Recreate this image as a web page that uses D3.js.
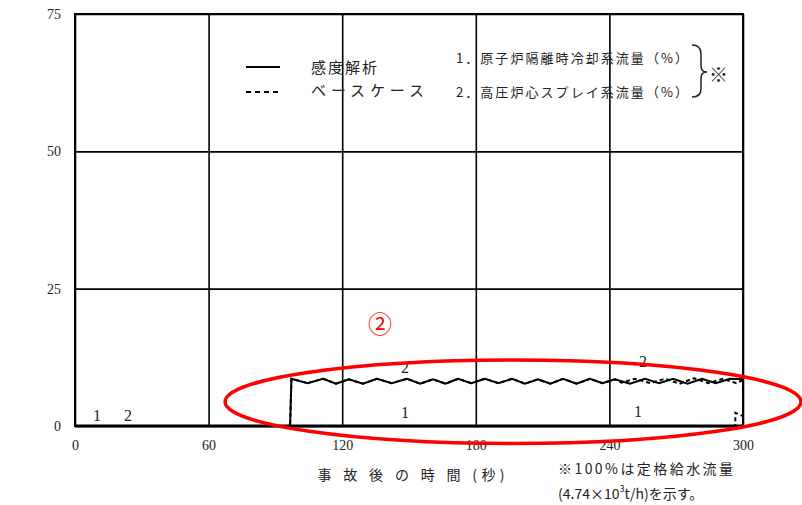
<!DOCTYPE html>
<html>
<head>
<meta charset="utf-8">
<script src="https://cdn.jsdelivr.net/npm/d3@7"></script>
<style>
  body { margin: 0; background: #fff; }
  svg { display: block; }
  .num { font-family: "Liberation Serif", "DejaVu Serif", serif; }
  .jp  { font-family: "Noto Sans CJK JP", "Noto Sans", sans-serif; }
</style>
</head>
<body>
<svg id="chart" width="802" height="505"></svg>
<script>
// axis ticks
const timeTicks = [0, 60, 120, 180, 240, 300];
const flowTicks = [0, 25, 50, 75];

// 2. HPCS flow (%) - sensitivity case
const hpcsTime = [0, 96.6, 97.2, 104.4, 111.4, 117.2, 123.0, 129.3, 135.6, 142.3, 149.1, 155.0,
  160.8, 166.4, 172.0, 178.0, 184.1, 190.2, 196.3, 202.1, 207.9, 213.5, 219.2, 225.2,
  231.3, 236.9, 242.5, 249.2, 256.0, 262.3, 268.6, 275.1, 281.6, 287.8, 294.1, 300];
const hpcsFlow = [0, 0, 8.6, 7.8, 8.6, 7.7, 8.5, 7.7, 8.6, 7.8, 8.6, 7.7,
  8.5, 7.7, 8.6, 7.8, 8.6, 7.8, 8.6, 7.7, 8.5, 7.7, 8.6, 7.7,
  8.6, 7.8, 8.5, 7.7, 8.6, 7.8, 8.6, 7.7, 8.6, 7.8, 8.6, 8.5];

// 2. HPCS flow (%) - base case
const hpcsBaseTime = [0, 96.6, 97.2, 104.4, 111.4, 117.2, 123.0, 129.3, 135.6, 142.3, 149.1, 155.0,
  160.8, 166.4, 172.0, 178.0, 184.1, 190.2, 196.3, 202.1, 207.9, 213.5, 219.2, 225.2,
  231.3, 236.9, 242.5, 245.5, 251.5, 258.3, 265.0, 271.5, 278.0, 284.5, 291.0, 297.0, 300];
const hpcsBaseFlow = [0, 0, 8.6, 7.8, 8.6, 7.7, 8.5, 7.7, 8.6, 7.8, 8.6, 7.7,
  8.5, 7.7, 8.6, 7.8, 8.6, 7.8, 8.6, 7.7, 8.5, 7.7, 8.6, 7.7,
  8.6, 7.8, 8.5, 7.9, 8.6, 7.8, 8.6, 7.7, 8.7, 7.8, 8.6, 7.8, 8.4];

// 1. RCIC flow (%)
const rcicTime = [0, 300];
const rcicFlow = [0, 0];
const rcicBaseTime = [0, 296.5, 296.6, 300];
const rcicBaseFlow = [0, 0, 2.4, 1.8];

// curve number labels
const curveLabelText = ['1', '2', '2', '1', '2', '1'];
const curveLabelTime = [9.9, 23.8, 148.2, 148.2, 255.1, 252.8];
const curveLabelFlow = [2.0, 2.0, 10.6, 2.4, 11.7, 2.6];

const svg = d3.select('#chart');
const m = { left: 75, top: 14, right: 59, bottom: 79 };
const W = 802 - m.left - m.right;   // 668
const H = 505 - m.top - m.bottom;   // 412

const x = d3.scaleLinear().domain([0, 300]).range([0, W]);
const y = d3.scaleLinear().domain([0, 75]).range([H, 0]);

const g = svg.append('g').attr('transform', `translate(${m.left},${m.top})`);

// grid via axes
const xAxis = g.append('g')
  .attr('transform', `translate(0,${H})`)
  .call(d3.axisBottom(x).tickValues(timeTicks).tickSize(-H).tickPadding(14));
xAxis.select('.domain').remove();
xAxis.selectAll('line').attr('stroke', '#000').attr('stroke-width', 1.6);
xAxis.selectAll('text').attr('class', 'num').attr('font-size', 14).attr('fill', '#222');

const yAxis = g.append('g')
  .call(d3.axisLeft(y).tickValues(flowTicks).tickSize(-W).tickPadding(14));
yAxis.select('.domain').remove();
yAxis.selectAll('line').attr('stroke', '#000').attr('stroke-width', 1.6);
yAxis.selectAll('text').attr('class', 'num').attr('font-size', 14).attr('fill', '#222');

// frame
g.append('rect').attr('width', W).attr('height', H)
  .attr('fill', 'none').attr('stroke', '#000').attr('stroke-width', 2);
g.append('line').attr('x1', 0).attr('x2', W).attr('y1', H).attr('y2', H)
  .attr('stroke', '#000').attr('stroke-width', 3);

// series
const line = d3.line().x(d => x(d[0])).y(d => y(d[1]));
const zip = (a, b) => a.map((t, i) => [t, b[i]]);

const series = [
  { pts: zip(rcicTime, rcicFlow), dash: null },
  { pts: zip(rcicBaseTime, rcicBaseFlow), dash: '4,3' },
  { pts: zip(hpcsBaseTime, hpcsBaseFlow), dash: '4,3' },
  { pts: zip(hpcsTime, hpcsFlow), dash: null },
];
g.selectAll('path.series').data(series).join('path')
  .attr('class', 'series')
  .attr('d', d => line(d.pts))
  .attr('fill', 'none')
  .attr('stroke', '#000')
  .attr('stroke-width', 2)
  .attr('stroke-linejoin', 'miter')
  .attr('stroke-dasharray', d => d.dash);

// curve numbers
g.selectAll('text.cl').data(curveLabelText).join('text')
  .attr('class', 'cl num')
  .attr('x', (d, i) => x(curveLabelTime[i]))
  .attr('y', (d, i) => y(curveLabelFlow[i]))
  .attr('text-anchor', 'middle')
  .attr('dominant-baseline', 'central')
  .attr('font-size', 16)
  .attr('fill', '#222')
  .text(d => d);

// legend
const leg = svg.append('g');
leg.append('line').attr('x1', 246).attr('x2', 280).attr('y1', 67).attr('y2', 67)
  .attr('stroke', '#000').attr('stroke-width', 2);
leg.append('line').attr('x1', 246).attr('x2', 280).attr('y1', 92).attr('y2', 92)
  .attr('stroke', '#000').attr('stroke-width', 2).attr('stroke-dasharray', '5,4');
leg.append('text').attr('class', 'jp').attr('x', 311).attr('y', 66)
  .attr('dominant-baseline', 'central').attr('font-size', 15).attr('fill', '#222')
  .attr('textLength', 66).text('感度解析');
leg.append('text').attr('class', 'jp').attr('x', 311).attr('y', 89)
  .attr('dominant-baseline', 'central').attr('font-size', 15).attr('fill', '#222')
  .attr('textLength', 113).text('ベースケース');
leg.append('text').attr('class', 'jp').attr('x', 456).attr('y', 57)
  .attr('dominant-baseline', 'central').attr('font-size', 13).attr('fill', '#222')
  .attr('textLength', 232).text('1．原子炉隔離時冷却系流量（%）');
leg.append('text').attr('class', 'jp').attr('x', 456).attr('y', 91)
  .attr('dominant-baseline', 'central').attr('font-size', 13).attr('fill', '#222')
  .attr('textLength', 232).text('2．高圧炉心スプレイ系流量（%）');
// brace
leg.append('path')
  .attr('d', 'M692,45 Q701,45 701,54 L701,66 Q701,72 707,72 Q701,72 701,78 L701,89 Q701,97 692,97')
  .attr('fill', 'none').attr('stroke', '#222').attr('stroke-width', 1.5);
leg.append('text').attr('class', 'jp').attr('x', 709).attr('y', 73)
  .attr('dominant-baseline', 'central').attr('font-size', 19).attr('fill', '#222').text('※');

// axis title and note
svg.append('text').attr('class', 'jp').attr('x', 411).attr('y', 474)
  .attr('text-anchor', 'middle').attr('dominant-baseline', 'central')
  .attr('font-size', 14).attr('fill', '#222')
  .attr('textLength', 187).text('事 故 後 の 時 間 (秒)');
svg.append('text').attr('class', 'jp').attr('x', 558).attr('y', 468)
  .attr('dominant-baseline', 'central').attr('font-size', 14).attr('fill', '#222')
  .attr('textLength', 175).text('※100%は定格給水流量');
const note2 = svg.append('text').attr('class', 'jp').attr('x', 558).attr('y', 493)
  .attr('dominant-baseline', 'central').attr('font-size', 14).attr('fill', '#222');
note2.append('tspan').text('(4.74×10');
note2.append('tspan').attr('font-size', 9).attr('dy', -5).text('3');
note2.append('tspan').attr('dy', 5).text('t/h)を示す。');

// red annotation
g.append('ellipse')
  .attr('cx', x(196.7)).attr('cy', y(4.4))
  .attr('rx', x(129.3)).attr('ry', H - y(7.6))
  .attr('fill', 'none').attr('stroke', '#ff0000').attr('stroke-width', 3.5);
g.append('text').attr('class', 'jp')
  .attr('x', x(137)).attr('y', y(18.9))
  .attr('text-anchor', 'middle').attr('dominant-baseline', 'central')
  .attr('font-size', 24).attr('fill', '#ff0000').text('②');
</script>
</body>
</html>
